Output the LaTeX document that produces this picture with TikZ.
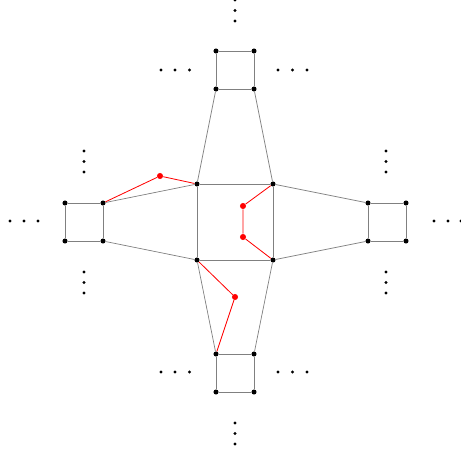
\documentclass[tikz,border=0pt]{standalone}
\usetikzlibrary{positioning}

\begin{document}
\begin{tikzpicture}[x=0.03cm, y=-0.03cm,
    vertex/.style={circle, fill=black, inner sep=0pt, minimum size=4.3pt},
    redvertex/.style={circle, fill=red, inner sep=0pt, minimum size=5.2pt},
    edge/.style={gray, line width=0.6pt},
    redline/.style={red, line width=0.7pt},
    dotmark/.style={circle, fill=black, inner sep=0pt, minimum size=2.6pt}
  ]
    \useasboundingbox (0,0) rectangle (461,454);

    % Center square
    \node[vertex] (c1) at (197,184) {};
    \node[vertex] (c2) at (273,184) {};
    \node[vertex] (c3) at (273,260) {};
    \node[vertex] (c4) at (197,260) {};

    % Top square
    \node[vertex] (t1) at (216,51) {};
    \node[vertex] (t2) at (254,51) {};
    \node[vertex] (t3) at (254,89) {};
    \node[vertex] (t4) at (216,89) {};

    % Bottom square
    \node[vertex] (b1) at (216,354) {};
    \node[vertex] (b2) at (254,354) {};
    \node[vertex] (b3) at (254,392) {};
    \node[vertex] (b4) at (216,392) {};

    % Left square
    \node[vertex] (l1) at (65,203) {};
    \node[vertex] (l2) at (103,203) {};
    \node[vertex] (l3) at (103,241) {};
    \node[vertex] (l4) at (65,241) {};

    % Right square
    \node[vertex] (r1) at (368,203) {};
    \node[vertex] (r2) at (406,203) {};
    \node[vertex] (r3) at (406,241) {};
    \node[vertex] (r4) at (368,241) {};

    % Red vertices
    \node[redvertex] (p1) at (160,176) {};
    \node[redvertex] (p2) at (243,206) {};
    \node[redvertex] (p3) at (243,237) {};
    \node[redvertex] (p4) at (235,297) {};

    % Square edges
    \foreach \s in {c,t,b,l,r}
      \draw[edge] (\s1) -- (\s2) -- (\s3) -- (\s4) -- (\s1);

    % Edges to the center
    \draw[edge] (t4) -- (c1);
    \draw[edge] (t3) -- (c2);
    \draw[edge] (l2) -- (c1);
    \draw[edge] (l3) -- (c4);
    \draw[edge] (r1) -- (c2);
    \draw[edge] (r4) -- (c3);
    \draw[edge] (b1) -- (c4);
    \draw[edge] (b2) -- (c3);

    % Red paths
    \draw[redline] (l2) -- (p1) -- (c1);
    \draw[redline] (c2) -- (p2) -- (p3) -- (c3);
    \draw[redline] (c4) -- (p4) -- (b1);

    % Ellipses (vertical)
    \foreach \y in {0,10.5,21} \node[dotmark] at (235,\y) {};
    \foreach \y in {423,433.5,444} \node[dotmark] at (235,\y) {};
    \foreach \y in {151,161.5,172,272,282.5,293} {
      \node[dotmark] at (84,\y) {};
      \node[dotmark] at (386,\y) {};
    }

    % Ellipses (horizontal)
    \foreach \x in {161,175,189.5,278,292.5,307} {
      \node[dotmark] at (\x,70) {};
      \node[dotmark] at (\x,372) {};
    }
    \foreach \x in {10,24,38,434,448,461} \node[dotmark] at (\x,221) {};

  \end{tikzpicture}
\end{document}
